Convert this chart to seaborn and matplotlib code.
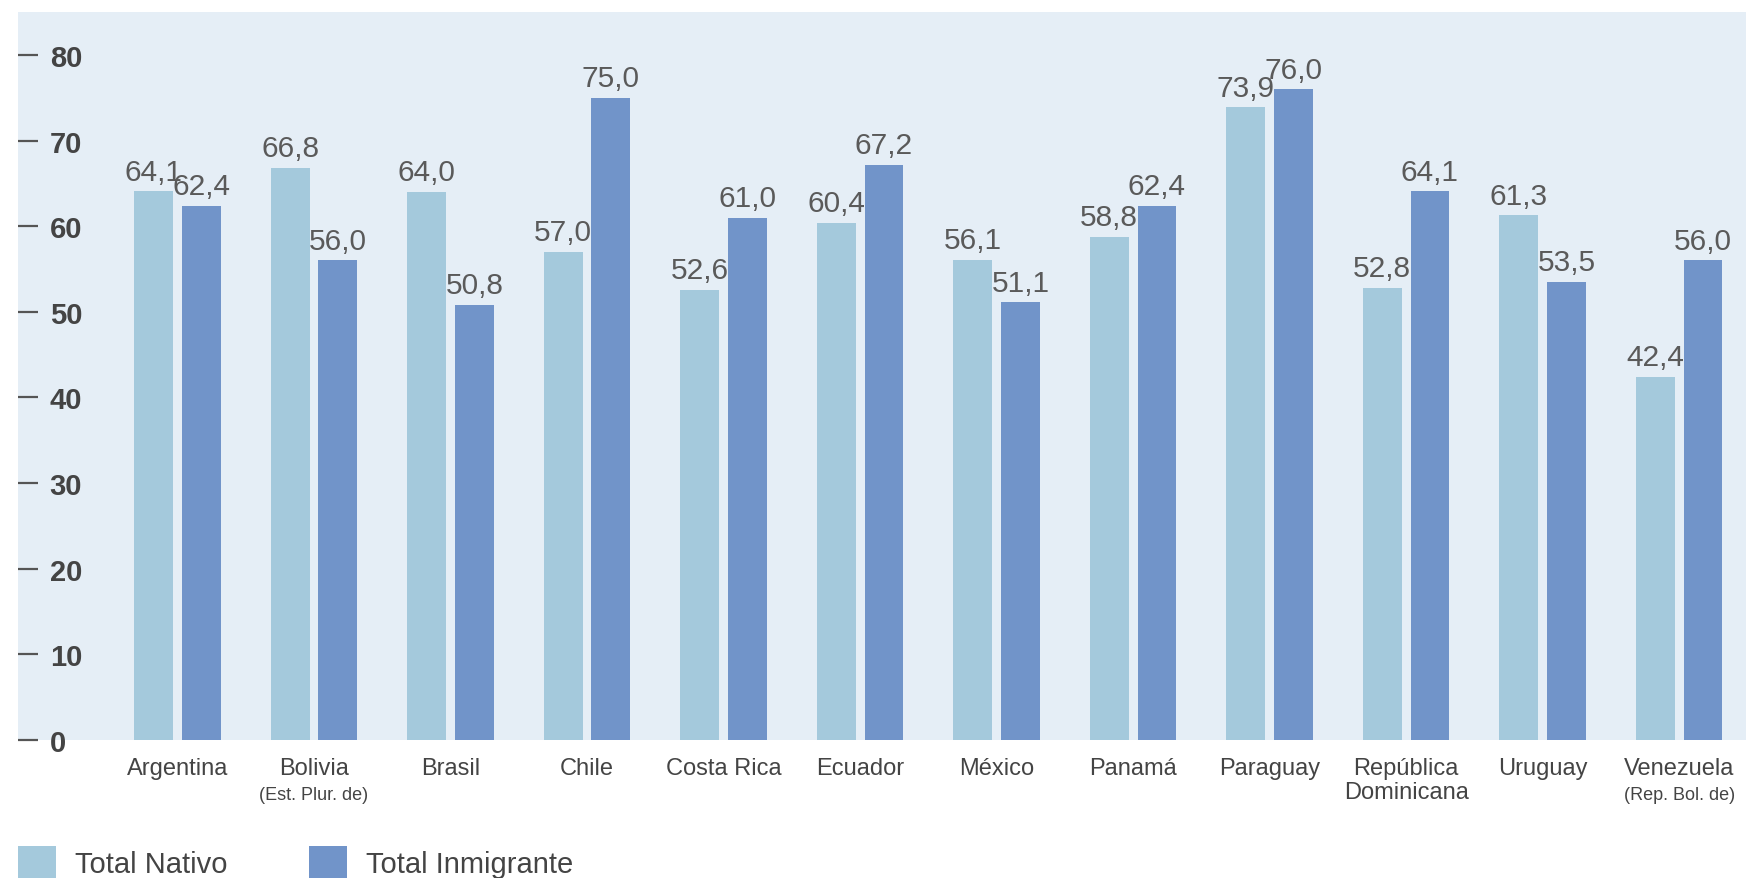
import numpy as np
import pandas as pd
import matplotlib
matplotlib.use("Agg")
import matplotlib.pyplot as plt
from matplotlib.patches import Patch
import seaborn as sns

sns.set_style("white")
plt.rcParams['font.family'] = ['Liberation Sans Narrow', 'Liberation Sans', 'DejaVu Sans']

paises = ["Argentina", "Bolivia", "Brasil", "Chile", "Costa Rica", "Ecuador",
          "México", "Panamá", "Paraguay", "República\nDominicana", "Uruguay", "Venezuela"]
subtitulos = ["", "(Est. Plur. de)", "", "", "", "", "", "", "", "", "", "(Rep. Bol. de)"]
nativo = [64.1, 66.8, 64.0, 57.0, 52.6, 60.4, 56.1, 58.8, 73.9, 52.8, 61.3, 42.4]
inmigrante = [62.4, 56.0, 50.8, 75.0, 61.0, 67.2, 51.1, 62.4, 76.0, 64.1, 53.5, 56.0]
grupos = ["Total Nativo", "Total Inmigrante"]
colores = ["#A4C9DC", "#7194C9"]

df = pd.DataFrame({
    "pais": paises * 2,
    "grupo": [grupos[0]] * len(paises) + [grupos[1]] * len(paises),
    "valor": nativo + inmigrante,
})

fig = plt.figure(figsize=(17.46, 8.79), dpi=100)
ax = fig.add_axes([0.0102, 0.157, 0.9898, 0.828])
ax.set_facecolor("#E5EEF6")

sns.barplot(data=df, x="pais", y="valor", hue="grupo", palette=colores,
            width=0.70, gap=0.186, saturation=1, legend=False,
            edgecolor="none", linewidth=0, ax=ax)

for cont in ax.containers:
    etiquetas = [f"{b.get_height():.1f}".replace(".", ",") for b in cont]
    ax.bar_label(cont, labels=etiquetas, padding=4, fontsize=21.5,
                 color="#5a5a5a", family=["Liberation Sans", "DejaVu Sans"])

ax.set_xlim(-1.17, 11.49)
ax.set_ylim(0, 85)
ax.set_yticks(range(0, 81, 10))
ax.set_xlabel("")
ax.set_ylabel("")
for s in ax.spines.values():
    s.set_visible(False)

ax.tick_params(axis="y", left=True, direction="in", length=14.5, width=1.6,
               color="#555555", pad=-23, labelsize=21, labelcolor="#444444")
for lab in ax.get_yticklabels():
    lab.set_ha("left")
    lab.set_fontweight("bold")

ax.tick_params(axis="x", bottom=False, length=0, pad=12, labelsize=17, labelcolor="#444444")
for lab in ax.get_xticklabels():
    lab.set_linespacing(1.15)

for i, sub in enumerate(subtitulos):
    if sub:
        ax.annotate(sub, xy=(i, 0), xycoords=("data", "axes fraction"),
                    xytext=(0, -33), textcoords="offset points",
                    ha="center", va="top", fontsize=13, color="#444444")

handles = [Patch(facecolor=c, edgecolor="none") for c in colores]
fig.legend(handles, grupos, loc="upper left", bbox_to_anchor=(0.0102, 0.036),
           ncol=2, frameon=False, handlelength=1.3, handleheight=1.3,
           handletextpad=0.65, columnspacing=2.8, borderpad=0, borderaxespad=0,
           labelcolor="#444444", prop={"family": ["Liberation Sans", "DejaVu Sans"], "size": 21})

fig.savefig("out.png", dpi=100)
